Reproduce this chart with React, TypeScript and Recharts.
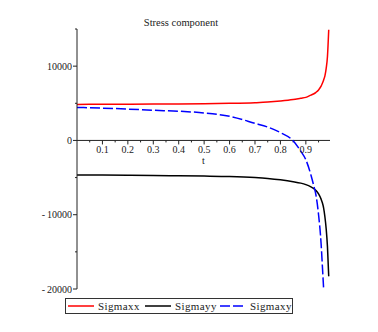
import { LineChart, Line, XAxis, YAxis, ReferenceLine, ReferenceDot, Legend } from 'recharts';

// values
const T = [0, 0.1, 0.2, 0.3, 0.4, 0.5, 0.6, 0.7, 0.75, 0.8, 0.85, 0.88, 0.9, 0.92, 0.93, 0.94, 0.95, 0.96, 0.965, 0.97, 0.975, 0.98, 0.985, 0.99];
const SIGMAXX = [4850, 4860, 4870, 4890, 4910, 4940, 4990, 5080, 5160, 5300, 5500, 5680, 5800, 6100, 6250, 6480, 6800, 7300, 7700, 8150, 8700, 9700, 11300, 14900];
const SIGMAYY = [-4650, -4670, -4690, -4720, -4760, -4800, -4860, -5000, -5120, -5300, -5550, -5750, -5950, -6250, -6450, -6750, -7200, -7900, -8400, -9100, -10300, -11900, -14300, -18300];
const SIGMAXY = [4440, 4350, 4220, 4060, 3930, 3700, 3250, 2300, 1800, 1050, -50, -1450, -2600, -4650, -5950, -7400, -10000, -13900, -16900, -20000, null, null, null, null];

const X_TICKS = [0.1, 0.2, 0.3, 0.4, 0.5, 0.6, 0.7, 0.8, 0.9];
const X_MINOR = [0.05, 0.15, 0.25, 0.35, 0.45, 0.55, 0.65, 0.75, 0.85, 0.95];
const Y_TICKS = [-20000, -15000, -10000, -5000, 0, 5000, 10000, 15000];
const Y_LABELED = [-20000, -10000, 0, 10000];

const SERIES = [
  { key: 'Sigmaxx', color: '#ff0000', dash: undefined as string | undefined, width: 77 },
  { key: 'Sigmayy', color: '#000000', dash: undefined as string | undefined, width: 75 },
  { key: 'Sigmaxy', color: '#0000ff', dash: '10 3', width: 72 },
];

const rows = T.map((t, i) => ({
  t,
  Sigmaxx: SIGMAXX[i],
  Sigmayy: SIGMAYY[i],
  Sigmaxy: SIGMAXY[i],
}));

const FONT = '"Liberation Serif", "DejaVu Serif", serif';
const INK = '#222';

const fmtY = (v: number) => (v < 0 ? `-\u2009${-v}` : `${v}`);

function YTick(props: any) {
  const { x, y, payload } = props;
  const major = Y_LABELED.includes(payload.value);
  return (
    <g>
      <line x1={x - (major ? 4 : 2)} x2={x} y1={y} y2={y} stroke={INK} />
      {major && (
        <text x={x - 5} y={y} dy={3.5} textAnchor="end" fontSize={10} fontFamily={FONT} fill={INK}>
          {fmtY(payload.value)}
        </text>
      )}
    </g>
  );
}

function LegendBox() {
  return (
    <div
      style={{
        boxSizing: 'border-box',
        height: 16,
        width: 228,
        border: '1px solid #333',
        display: 'flex',
        alignItems: 'center',
        paddingLeft: 2,
        fontFamily: FONT,
        fontSize: 11,
        letterSpacing: 0.4,
        color: INK,
        background: '#fff',
      }}
    >
      {SERIES.map((s) => (
        <div key={s.key} style={{ display: 'flex', alignItems: 'center', width: s.width }}>
          <svg width={26} height={4} style={{ marginRight: 4 }}>
            <line x1={0} x2={26} y1={2} y2={2} stroke={s.color} strokeWidth={1.5} strokeDasharray={s.dash} />
          </svg>
          <span>{s.key}</span>
        </div>
      ))}
    </div>
  );
}

export default function App() {
  return (
    <div style={{ position: 'absolute', left: 0, top: 0, width: 378, height: 332, background: '#fff' }}>
      <div
        style={{
          position: 'absolute',
          left: 0,
          top: 17,
          width: 362,
          textAlign: 'center',
          fontFamily: FONT,
          fontSize: 10.5,
          color: INK,
        }}
      >
        Stress component
      </div>
      <LineChart width={378} height={332} data={rows} margin={{ top: 29, right: 48, bottom: 27, left: 37 }}>
        <XAxis dataKey="t" type="number" domain={[0, 0.995]} hide />
        <YAxis
          type="number"
          domain={[-20000, 15000]}
          ticks={Y_TICKS}
          width={40}
          tickSize={0}
          tickMargin={0}
          tickLine={false}
          axisLine={{ stroke: INK }}
          tick={<YTick />}
          interval={0}
        />
        <ReferenceLine y={0} stroke={INK} />
        {X_TICKS.map((t) => (
          <ReferenceLine key={`maj-${t}`} segment={[{ x: t, y: 0 }, { x: t, y: -540 }]} stroke={INK} />
        ))}
        {X_MINOR.map((t) => (
          <ReferenceLine key={`min-${t}`} segment={[{ x: t, y: 0 }, { x: t, y: -270 }]} stroke={INK} />
        ))}
        {X_TICKS.map((t) => (
          <ReferenceDot
            key={`lab-${t}`}
            x={t}
            y={0}
            r={1}
            fill="none"
            stroke="none"
            label={{ value: String(t), position: 'bottom', offset: 4, fontSize: 10, fontFamily: FONT, fill: INK }}
          />
        ))}
        <ReferenceDot
          x={0.4975}
          y={0}
          r={1}
          fill="none"
          stroke="none"
          label={{ value: 't', position: 'bottom', offset: 15, fontSize: 10, fontFamily: FONT, fill: INK }}
        />
        {SERIES.map((s) => (
          <Line
            key={s.key}
            dataKey={s.key}
            type="monotone"
            stroke={s.color}
            strokeWidth={1.5}
            strokeDasharray={s.dash}
            dot={false}
            isAnimationActive={false}
          />
        ))}
        <Legend
          verticalAlign="bottom"
          content={<LegendBox />}
          wrapperStyle={{ left: 65, bottom: 18, width: 228, height: 16 }}
        />
      </LineChart>
    </div>
  );
}
